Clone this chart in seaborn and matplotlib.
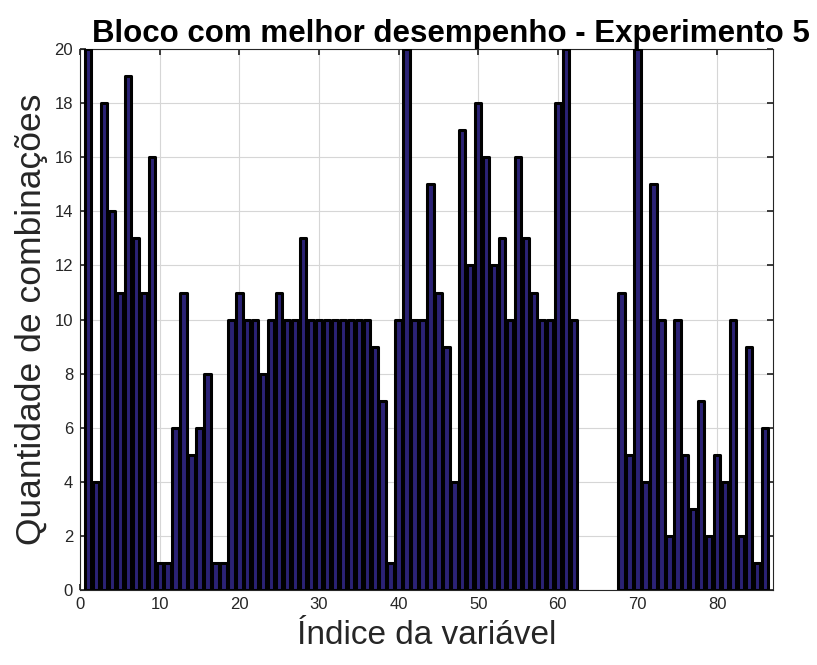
import numpy as np
import pandas as pd
import matplotlib
matplotlib.use("Agg")
import matplotlib.pyplot as plt
import seaborn as sns

# ==========================================
# DATA
# ==========================================
indices = list(range(1, 87))
counts = [
    20, 4, 18, 14, 11, 19, 13, 11, 16, 1,      # 1-10
    1, 6, 11, 5, 6, 8, 1, 1, 10, 11,           # 11-20
    10, 10, 8, 10, 11, 10, 10, 13, 10, 10,     # 21-30
    10, 10, 10, 10, 10, 10, 9, 7, 1, 10,       # 31-40
    20, 10, 10, 15, 11, 9, 4, 17, 12, 18,      # 41-50
    16, 12, 13, 10, 16, 13, 11, 10, 10, 18,    # 51-60
    20, 10, 0, 0, 0, 0, 0, 11, 5, 20,          # 61-70
    4, 15, 10, 2, 10, 5, 3, 7, 2, 5,           # 71-80
    4, 10, 2, 9, 1, 6,                         # 81-86
]
x_ticks = [0, 10, 20, 30, 40, 50, 60, 70, 80]
y_ticks = [0, 2, 4, 6, 8, 10, 12, 14, 16, 18, 20]

TITLE = 'Bloco com melhor desempenho - Experimento 5'
XLABEL = 'Índice da variável'
YLABEL = 'Quantidade de combinações'

# ==========================================
# STYLE
# ==========================================
sns.set_theme(style="whitegrid")
plt.rcParams['font.family'] = ['Liberation Sans', 'DejaVu Sans']

df = pd.DataFrame({'Indice': indices, 'Quantidade': counts})

fig = plt.figure(figsize=(8.17, 6.65), dpi=100)
ax = fig.add_axes([0.098, 0.113, 0.848, 0.813])

sns.barplot(data=df, x='Indice', y='Quantidade', native_scale=True,
            width=0.8, color='#2b2275', edgecolor='black', linewidth=2.2,
            saturation=1, ax=ax, zorder=3)

# empty indices: no outline at the baseline
for p in ax.patches:
    p.set_joinstyle('round')
    if p.get_height() == 0:
        p.set_visible(False)

ax.set_xlim(0, 87)
ax.set_ylim(0, 20)
ax.set_xticks(x_ticks)
ax.set_yticks(y_ticks)

ax.set_facecolor('white')
ax.grid(True, color='#d6d6d6', linewidth=0.8, zorder=0)
ax.set_axisbelow(True)
for s in ax.spines.values():
    s.set_visible(True)
    s.set_color('#262626')
    s.set_linewidth(0.8)

ax.tick_params(axis='both', which='both', direction='in', length=4,
               top=True, right=True, bottom=True, left=True,
               labelsize=12, labelcolor='#262626', color='#262626', pad=5)

ax.set_title(TITLE, fontsize=22.5, fontweight='bold', color='black',
             x=0.536, pad=5)
ax.set_xlabel(XLABEL, fontsize=24, color='#262626', labelpad=6)
ax.set_ylabel(YLABEL, fontsize=25.5, color='#262626', labelpad=5)

fig.savefig('out.png', dpi=100)
